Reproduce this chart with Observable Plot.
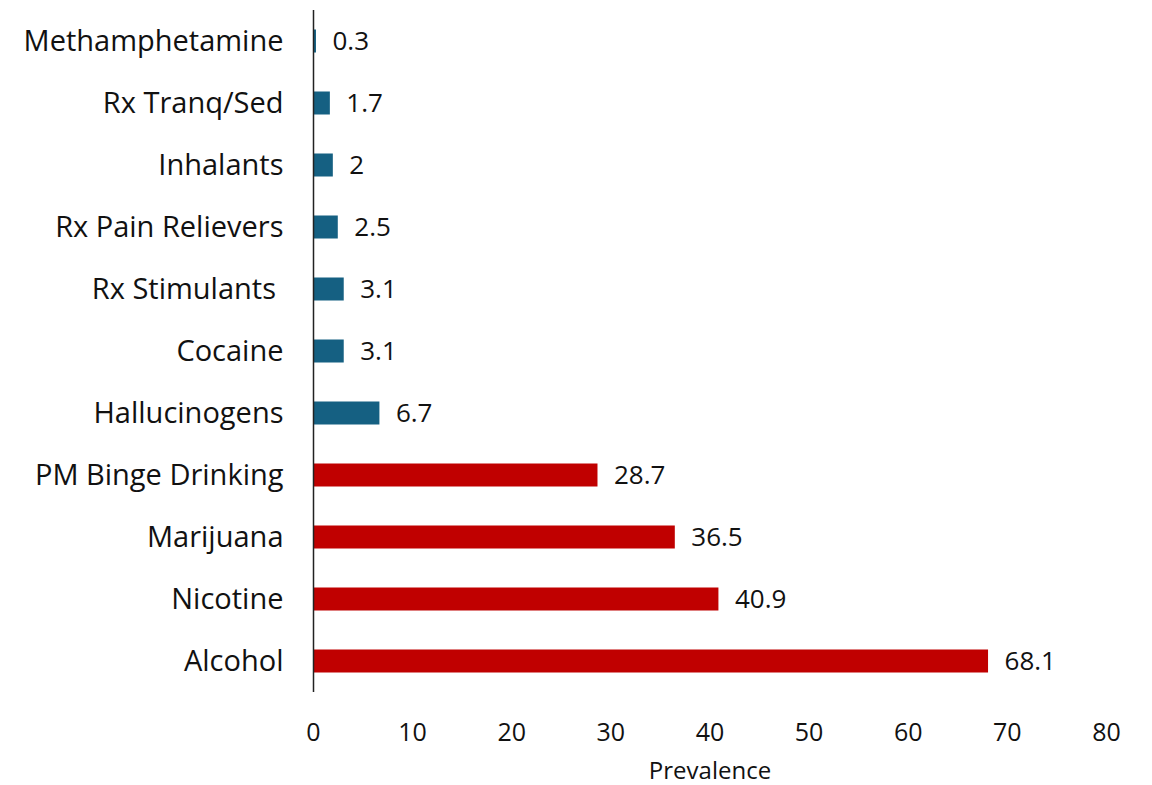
<!DOCTYPE html>
<html>
<head>
<meta charset="utf-8">
<script src="https://cdn.jsdelivr.net/npm/d3@7"></script>
<script src="https://cdn.jsdelivr.net/npm/@observablehq/plot@0.6"></script>
<style>
  html, body { margin: 0; padding: 0; background: #fff; }
  #chart svg { display: block; }
</style>
</head>
<body>
<div id="chart"></div>
<script>
const categories = ["Methamphetamine", "Rx Tranq/Sed", "Inhalants", "Rx Pain Relievers", "Rx Stimulants\u00a0", "Cocaine", "Hallucinogens", "PM Binge Drinking", "Marijuana", "Nicotine", "Alcohol"];
const values = [0.3, 1.7, 2, 2.5, 3.1, 3.1, 6.7, 28.7, 36.5, 40.9, 68.1];
const groups = ["other", "other", "other", "other", "other", "other", "other", "top", "top", "top", "top"];
const xTicks = [0, 10, 20, 30, 40, 50, 60, 70, 80];

const data = categories.map((c, i) => ({category: c, value: values[i], group: groups[i]}));
const font = "'Open Sans', sans-serif";

const chart = Plot.plot({
  width: 1152,
  height: 785,
  marginLeft: 313,
  marginRight: 46,
  marginTop: 10,
  marginBottom: 93,
  style: {fontFamily: font, background: "#fff", color: "#111"},
  x: {domain: [0, 80], ticks: xTicks, label: null},
  y: {domain: categories, padding: 0, label: null},
  color: {domain: ["other", "top"], range: ["#156082", "#C00000"]},
  marks: [
    Plot.barX(data, {x: "value", y: "category", fill: "group", insetTop: 19.5, insetBottom: 19.5}),
    Plot.text(data, {x: "value", y: "category", text: d => String(d.value), textAnchor: "start", dx: 16, fontSize: 26, fill: "#111"}),
    Plot.axisY({tickSize: 0, tickPadding: 30, fontSize: 29, label: null, fill: "#111"}),
    Plot.axisX({ticks: xTicks, tickSize: 0, tickPadding: 31, fontSize: 25, label: null, fill: "#111"}),
    Plot.ruleX([0], {stroke: "#222", strokeWidth: 1.5}),
    Plot.ruleY([0], {stroke: "#222", strokeWidth: 1.5}),
    Plot.text(["Prevalence"], {frameAnchor: "bottom", dy: 86, fontSize: 24, fill: "#111"})
  ]
});
document.getElementById("chart").appendChild(chart);
</script>
</body>
</html>
